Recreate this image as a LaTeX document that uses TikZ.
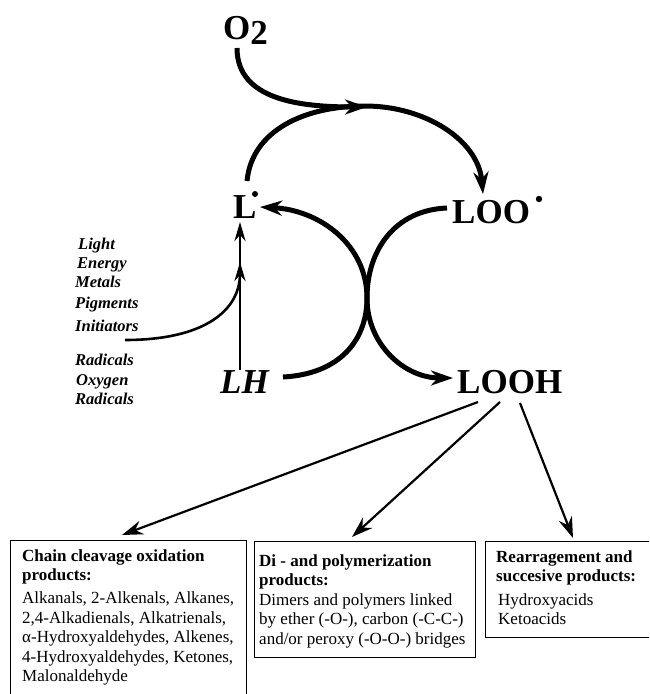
\documentclass[tikz,border=0pt]{standalone}
\usepackage{fontspec}
\setmainfont{Liberation Serif}
\usetikzlibrary{arrows.meta}
\begin{document}
\begin{tikzpicture}[x=1pt,y=-1pt,
  big/.style={font=\fontsize{35}{40}\selectfont\bfseries, inner sep=0pt, anchor=base west},
  sidelbl/.style={font=\fontsize{16.5}{19}\selectfont\bfseries\itshape, inner sep=0pt, anchor=base west},
  frame/.style={draw, line width=1pt, anchor=north west, inner sep=0pt},
  boxtext/.style={font=\fontsize{17}{19.4}\selectfont, inner sep=0pt, anchor=north west, align=left},
  heavyarrow/.style={line width=5pt, -{Stealth[length=22pt,width=15pt,inset=7pt]}},
  midarrow/.style={line width=2.6pt, -{Stealth[length=19pt,width=11pt,inset=6pt]}},
  leadarrow/.style={line width=2.2pt, -{Stealth[length=21pt,width=14pt,inset=7pt]}}
]
\path[use as bounding box] (0,0) rectangle (649,694);
\clip (0,0) rectangle (649,694);

% main species
\node[big] (O2) at (223,39) {O\raisebox{-5pt}{2}};
\node[big] (L) at (233,218) {L};
\node[big] (LOO) at (452,223) {LOO};
\node[big, font=\fontsize{35}{40}\selectfont\bfseries\itshape] (LH) at (220,393) {LH};
\node[big] (LOOH) at (457,393) {LOOH};
\fill (255,194) circle (3pt);
\fill (539,199) circle (3.2pt);

% initiator labels
\node[sidelbl] (t1) at (78,249) {Light};
\node[sidelbl] (t2) at (77,268) {Energy};
\node[sidelbl] (t3) at (75,287) {Metals};
\node[sidelbl] (t4) at (75,308) {Pigments};
\node[sidelbl] (t5) at (75,331) {Initiators};
\node[sidelbl] (t6) at (75,365) {Radicals};
\node[sidelbl] (t7) at (76,385) {Oxygen};
\node[sidelbl] (t8) at (75,404) {Radicals};

% named connector points
\coordinate (o2s) at (237,48);
\coordinate (arctop) at (365,106);
\coordinate (o2tip) at (367,107);
\coordinate (ltop) at (247,181);
\coordinate (looin) at (483,194);
\coordinate (lhR) at (283,377);
\coordinate (lin) at (260,207);
\coordinate (cross) at (367,298);
\coordinate (looL) at (447,208);
\coordinate (loohin) at (453,378);
\coordinate (lhtop) at (240,370);
\coordinate (lbot) at (240,222);
\coordinate (inits) at (125,340);
\coordinate (initin) at (240,262);
\coordinate (ooA) at (478,402);
\coordinate (ooB) at (500,402);
\coordinate (ooC) at (520,403);
\coordinate (tipA) at (122,535);
\coordinate (tipB) at (352,537);
\coordinate (tipC) at (573,538);

% boxes
\node[frame, minimum width=236pt, minimum height=175pt] (b1) at (10,540) {};
\node[frame, minimum width=221pt, minimum height=116pt] (b2) at (254,541) {};
\node[frame, minimum width=190pt, minimum height=96pt] (b3) at (485,541) {};

\node[boxtext] (b1t) at (22,549.5) {\textbf{Chain cleavage oxidation}\\\textbf{products:}\\[3.5pt]
Alkanals, 2-Alkenals, Alkanes,\\2,4-Alkadienals, Alkatrienals,\\α-Hydroxyaldehydes, Alkenes,\\4-Hydroxyaldehydes, Ketones,\\Malonaldehyde};
\node[boxtext] (b2t) at (259,554.5) {\textbf{Di - and polymerization}\\\textbf{products:}\\
Dimers and polymers linked\\by ether (-O-), carbon (-C-C-)\\and/or peroxy (-O-O-) bridges};
\node[boxtext] (b3t) at (496,550) {\textbf{Rearragement and}\\\textbf{succesive products:}\\[4.5pt]
\hspace{2pt}Hydroxyacids\\\hspace{2pt}Ketoacids};

% cycle arcs
\draw[heavyarrow] (ltop) .. controls (252,130) and (305,106) .. (arctop)
      .. controls (425,106) and (478,140) .. (looin);
\draw[heavyarrow] (o2s) .. controls (237,100) and (300,107) .. (o2tip);
\draw[heavyarrow] (lhR) .. controls (340,374) and (367,340) .. (cross)
      .. controls (367,245) and (320,210) .. (lin);
\draw[heavyarrow] (looL) .. controls (395,210) and (367,250) .. (cross)
      .. controls (367,345) and (405,378) .. (loohin);

% initiation
\draw[midarrow] (lhtop) -- (lbot);
\draw[midarrow] (inits) .. controls (205,340) and (240,310) .. (initin);

% products
\draw[leadarrow] (ooA) -- (tipA);
\draw[leadarrow] (ooB) -- (tipB);
\draw[leadarrow] (ooC) -- (tipC);
\end{tikzpicture}
\end{document}
